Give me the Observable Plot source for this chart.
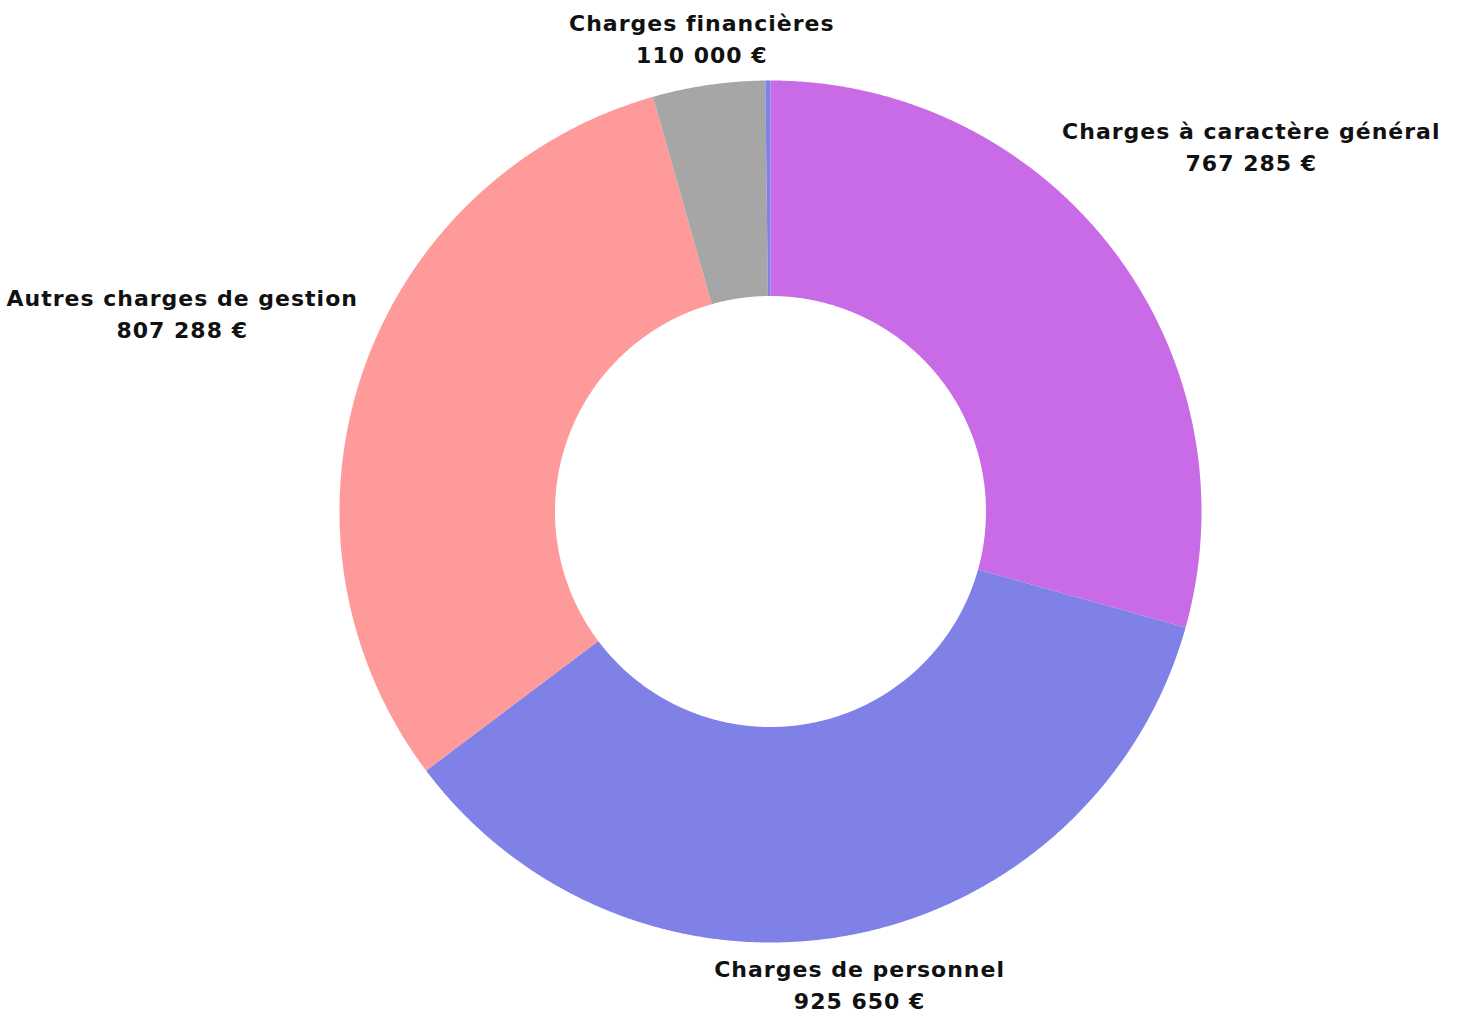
<!DOCTYPE html>
<html><head><meta charset="utf-8">
<script src="https://cdn.jsdelivr.net/npm/d3@7"></script>
<script src="https://cdn.jsdelivr.net/npm/@observablehq/plot@0.6"></script>
<style>html,body{margin:0;padding:0;background:#fff}svg{display:block}</style>
</head><body><div id="chart"></div>
<script>
// Data
const categories = ["Charges à caractère général", "Charges de personnel", "Autres charges de gestion", "Charges financières", "Charges exceptionnelles"];
const values = [767285, 925650, 807288, 110000, 5000];
const colors = ["#c96be6", "#7f81e6", "#ff9a9b", "#a6a6a6", "#7f81e6"];

// Layout
const W = 1459, H = 1014;
const CX = 770, CY = 511, R = 431;   // pixel center and outer radius
const INNER = 0.5;                   // inner radius ratio
const LABEL_GAP = 447;               // min distance (px) from center to label box
const FONT_SIZE = 22, LETTER_SP = 1, LINE_H = 1.45, BOX_HALF_H = 26;
const FONT = "DejaVu Sans";

const data = categories.map((name, i) => ({name, value: values[i]}));
const arcs = d3.pie().sort(null).value(d => d.value)(data);

const poly = [];
for (const a of arcs) {
  const n = Math.max(2, Math.ceil((a.endAngle - a.startAngle) / 0.004));
  const ang = i => a.startAngle + (a.endAngle - a.startAngle) * i / n;
  for (let i = 0; i <= n; i++) poly.push({name: a.data.name, x: Math.sin(ang(i)), y: Math.cos(ang(i))});
  for (let i = n; i >= 0; i--) poly.push({name: a.data.name, x: INNER * Math.sin(ang(i)), y: INNER * Math.cos(ang(i))});
}

const total = d3.sum(values);
const fr = d3.formatLocale({decimal: ",", thousands: " ", grouping: [3], currency: ["", " €"]});
const fmt = fr.format(",d");

const ctx = document.createElement("canvas").getContext("2d");
ctx.font = `700 ${FONT_SIZE}px '${FONT}'`;
const textWidth = s => ctx.measureText(s).width + LETTER_SP * s.length;

const labels = arcs.filter(a => a.data.value / total > 0.01).map(a => {
  const m = (a.startAngle + a.endAngle) / 2;
  const s = Math.sin(m), c = Math.cos(m);
  const text = `${a.data.name}\n${fmt(a.data.value)} €`;
  const hw = d3.max(text.split("\n"), textWidth) / 2, hh = BOX_HALF_H;
  const dist = t => {
    const x = t * s, y = t * c;
    const nx = Math.max(0, Math.abs(x) - hw), ny = Math.max(0, Math.abs(y) - hh);
    return Math.hypot(nx, ny);
  };
  let lo = 0, hi = 3000;
  for (let k = 0; k < 60; k++) { const mid = (lo + hi) / 2; if (dist(mid) < LABEL_GAP) lo = mid; else hi = mid; }
  return {x: hi * s / R, y: hi * c / R, text};
});

const chart = Plot.plot({
  width: W, height: H,
  margin: 0,
  x: {domain: [-CX / R, (W - CX) / R], axis: null},
  y: {domain: [-(H - CY) / R, CY / R], axis: null},
  color: {domain: categories, range: colors},
  style: {background: "#fff"},
  marks: [
    Plot.line(poly, {x: "x", y: "y", z: "name", fill: "name", stroke: "none", curve: "linear-closed"}),
    Plot.text(labels, {x: "x", y: "y", text: "text", fontSize: FONT_SIZE, fontWeight: 700,
      fontFamily: FONT, lineHeight: LINE_H, fill: "#111", textAnchor: "middle", dy: -2,
      letterSpacing: LETTER_SP})
  ]
});
chart.querySelectorAll("text").forEach(t => t.style.letterSpacing = LETTER_SP + "px");
document.getElementById("chart").append(chart);
</script>
</body></html>
